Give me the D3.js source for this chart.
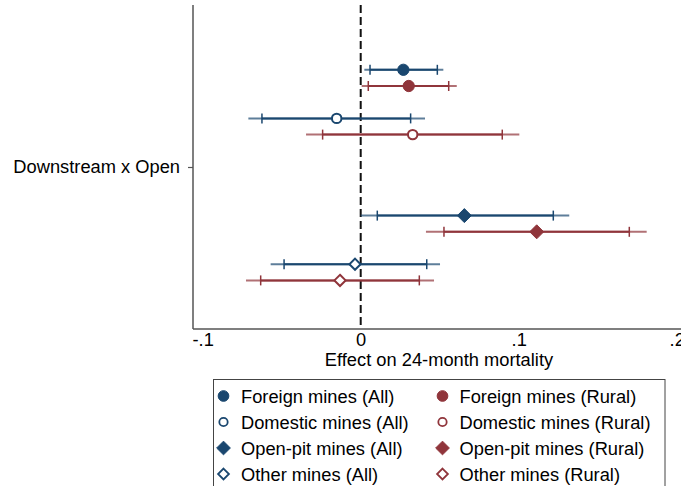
<!DOCTYPE html>
<html>
<head>
<meta charset="utf-8">
<script src="https://cdn.jsdelivr.net/npm/d3@7/dist/d3.min.js"></script>
<style>
  html, body { margin: 0; padding: 0; background: #fff; }
  svg { display: block; }
  text { font-family: "Liberation Sans", Arial, sans-serif; fill: #000; }
</style>
</head>
<body>
<svg id="chart" width="681" height="486"></svg>
<script>
// ---- data ----
const categories = ["Downstream x Open"];
const seriesNames = [
  "Foreign mines (All)", "Foreign mines (Rural)",
  "Domestic mines (All)", "Domestic mines (Rural)",
  "Open-pit mines (All)", "Open-pit mines (Rural)",
  "Other mines (All)", "Other mines (Rural)"
];
const estimates = [0.0270, 0.0304, -0.0152, 0.0329, 0.0656, 0.1114, -0.0036, -0.0131];
const ci95Low  = [0.0023, 0.0006, -0.0711, -0.0346, 0.0000, 0.0413, -0.0570, -0.0726];
const ci95High = [0.0523, 0.0608, 0.0407, 0.1004, 0.1320, 0.1810, 0.0502, 0.0464];
const ci90Low  = [0.0059, 0.0048, -0.0625, -0.0241, 0.0105, 0.0527, -0.0485, -0.0633];
const ci90High = [0.0485, 0.0557, 0.0316, 0.0896, 0.1219, 0.1700, 0.0418, 0.0371];
const offsets  = [-0.30, -0.25, -0.15, -0.10, 0.15, 0.20, 0.30, 0.35];
const groups   = ["All", "Rural", "All", "Rural", "All", "Rural", "All", "Rural"];
const symbols  = ["circle", "circle", "circle", "circle", "diamond", "diamond", "diamond", "diamond"];
const filled   = [true, true, false, false, true, true, false, false];
const xTicks = [-0.1, 0, 0.1, 0.2];
const xTickLabels = ["-.1", "0", ".1", ".2"];
const xTitle = "Effect on 24-month mortality";

// ---- styles ----
const colors = { All: "#1a476f", Rural: "#90353b" };
const FONT = 18.3;

const svg = d3.select("#chart");

const plotLeft = 193, plotRight = 681, plotTop = 5, plotBottom = 329;
const x = d3.scaleLinear().domain([-0.1, 0.2]).range([202.7, 676.7]);
const y = d3.scaleLinear().domain([0.5, 1.5]).range([plotTop, plotBottom]);

// axes lines
svg.append("line").attr("x1", plotLeft).attr("x2", plotLeft)
  .attr("y1", plotTop).attr("y2", plotBottom)
  .attr("stroke", "#555").attr("stroke-width", 1.5);
svg.append("line").attr("x1", plotLeft).attr("x2", plotRight)
  .attr("y1", plotBottom).attr("y2", plotBottom)
  .attr("stroke", "#555").attr("stroke-width", 1.5);

// x axis labels
const xAxis = d3.axisBottom(x).tickValues(xTicks)
  .tickFormat((d, i) => xTickLabels[i]).tickSize(0).tickPadding(0);
const gx = svg.append("g").attr("transform", `translate(0,${plotBottom})`).call(xAxis);
gx.select(".domain").remove();
gx.selectAll("text").attr("font-size", FONT).attr("font-family", "Liberation Sans, Arial, sans-serif")
  .attr("fill", "#000").attr("dy", null).attr("y", 16.5);

// y axis (category)
const yAxis = d3.axisLeft(d3.scalePoint().domain(categories).range([y(1), y(1)]))
  .tickSize(5).tickPadding(8);
const gy = svg.append("g").attr("transform", `translate(${plotLeft},0)`).call(yAxis);
gy.select(".domain").remove();
gy.selectAll("line").attr("stroke", "#555").attr("stroke-width", 1.2);
gy.selectAll("text").attr("font-size", FONT).attr("font-family", "Liberation Sans, Arial, sans-serif")
  .attr("fill", "#000");

// x title
svg.append("text").attr("x", 439).attr("y", 366).attr("text-anchor", "middle")
  .attr("font-size", FONT).text(xTitle);

// zero reference line
svg.append("line").attr("x1", x(0)).attr("x2", x(0))
  .attr("y1", plotTop).attr("y2", plotBottom)
  .attr("stroke", "#111").attr("stroke-width", 2).attr("stroke-dasharray", "8,4");

// marker path generator
function markerPath(sym, size) {
  const s = sym === "circle" ? d3.symbolCircle : d3.symbolDiamond2;
  return d3.symbol().type(s).size(size)();
}

const data = seriesNames.map((n, i) => ({
  name: n, est: estimates[i], lo95: ci95Low[i], hi95: ci95High[i],
  lo90: ci90Low[i], hi90: ci90High[i], off: offsets[i],
  color: colors[groups[i]], sym: symbols[i], filled: filled[i]
}));

const g = svg.append("g");
data.forEach(d => {
  const yy = y(1 + d.off);
  g.append("line").attr("x1", x(d.lo95)).attr("x2", x(d.hi95))
    .attr("y1", yy).attr("y2", yy).attr("stroke", d.color)
    .attr("stroke-width", 2).attr("stroke-opacity", 0.7);
  g.append("line").attr("x1", x(d.lo90)).attr("x2", x(d.hi90))
    .attr("y1", yy).attr("y2", yy).attr("stroke", d.color)
    .attr("stroke-width", 2);
  [d.lo90, d.hi90].forEach(v => {
    g.append("line").attr("x1", x(v)).attr("x2", x(v))
      .attr("y1", yy - 5).attr("y2", yy + 5).attr("stroke", d.color)
      .attr("stroke-width", 1.5);
  });
  let size;
  if (d.sym === "circle") size = d.filled ? 100 : 70;
  else size = d.filled ? 125 : 80;
  g.append("path").attr("d", markerPath(d.sym, size))
    .attr("transform", `translate(${x(d.est)},${yy})`)
    .attr("fill", d.filled ? d.color : "#fff")
    .attr("stroke", d.color).attr("stroke-width", d.filled ? 1 : 2);
});

// legend
const leg = svg.append("g");
leg.append("rect").attr("x", 213.5).attr("y", 379.5).attr("width", 451.5).attr("height", 120)
  .attr("fill", "#fff").attr("stroke", "#444").attr("stroke-width", 1);
const colX = [223.5, 442.5], textX = [241, 459.5];
data.forEach((d, i) => {
  const col = i % 2, row = Math.floor(i / 2);
  const cy = 396 + row * 26;
  let size;
  if (d.sym === "circle") size = d.filled ? 90 : 55;
  else size = d.filled ? 120 : 75;
  leg.append("path").attr("d", markerPath(d.sym, size))
    .attr("transform", `translate(${colX[col]},${cy})`)
    .attr("fill", d.filled ? d.color : "#fff")
    .attr("stroke", d.color).attr("stroke-width", d.filled ? 1 : 1.8);
  leg.append("text").attr("x", textX[col]).attr("y", cy + 6.5)
    .attr("font-size", FONT).text(d.name);
});
</script>
</body>
</html>
